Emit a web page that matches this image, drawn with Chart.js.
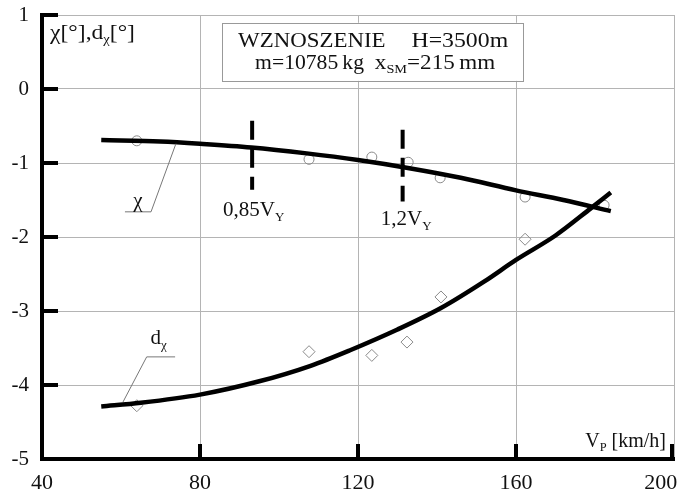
<!DOCTYPE html>
<html>
<head>
<meta charset="utf-8">
<script src="https://cdn.jsdelivr.net/npm/chart.js@4"></script>
<style>
  html, body { margin: 0; padding: 0; background: #fff; }
  #wrap { width: 686px; height: 499px; }
</style>
</head>
<body>
<div id="wrap"><canvas id="chart" width="686" height="499"></canvas></div>
<script>
// Fitted curves
const chiCurveX = [55, 70, 80, 93, 107, 120, 133, 146, 160, 172, 184];
const chiCurveY = [-0.69, -0.71, -0.74, -0.79, -0.87, -0.96, -1.07, -1.2, -1.37, -1.5, -1.65];
const dCurveX = [55, 65, 80, 95, 108, 118, 130, 141, 152, 160, 170, 179, 184];
const dCurveY = [-4.29, -4.24, -4.13, -3.95, -3.74, -3.53, -3.25, -2.96, -2.6, -2.31, -1.98, -1.61, -1.4];

// Measured points
const chiPointsX = [64, 107.6, 123.5, 132.7, 140.8, 162.3, 182.3];
const chiPointsY = [-0.70, -0.95, -0.92, -0.99, -1.2, -1.46, -1.57];
const dPointsX = [64, 107.6, 123.5, 132.4, 141, 162.3];
const dPointsY = [-4.28, -3.55, -3.6, -3.42, -2.81, -2.03];

// Axis ticks
const xTicks = [40, 80, 120, 160, 200];
const yTicks = [1, 0, -1, -2, -3, -4, -5];

// Reference speeds (0,85 VY and 1,2 VY)
const vyMarks = [
  { x: 93.2, y1: -0.43, y2: -1.36, label: '0,85', lx: 93.6, ly: -1.72 },
  { x: 131.3, y1: -0.55, y2: -1.52, label: '1,2', lx: 132.2, ly: -1.84 }
];

const SERIF = '"Liberation Serif", "DejaVu Serif", serif';

function toXY(xs, ys) {
  return xs.map((x, i) => ({ x: x, y: ys[i] }));
}

// draw text made of parts, some of them subscripts; sx stretches it sideways
function richText(c, parts, x, y, size, align, sx) {
  sx = sx || 1;
  c.save();
  c.textBaseline = 'alphabetic';
  c.textAlign = 'left';
  let w = 0;
  parts.forEach(p => {
    c.font = (p.sub ? size * 0.62 : size) + 'px ' + SERIF;
    w += c.measureText(p.t).width + (p.gap || 0);
  });
  w *= sx;
  const x0 = align === 'center' ? x - w / 2 : align === 'right' ? x - w : x;
  c.translate(x0, y);
  c.scale(sx, 1);
  let cx = 0;
  parts.forEach(p => {
    c.font = (p.sub ? size * 0.62 : size) + 'px ' + SERIF;
    c.fillText(p.t, cx, p.sub ? size * 0.22 : 0);
    cx += c.measureText(p.t).width + (p.gap || 0);
  });
  c.restore();
}

const decorations = {
  id: 'decorations',
  beforeDatasetsDraw(chart) {
    const c = chart.ctx;
    const xs = chart.scales.x, ys = chart.scales.y;
    // title box
    const bx1 = xs.getPixelForValue(85.6), bx2 = xs.getPixelForValue(161.8);
    const by1 = ys.getPixelForValue(0.895), by2 = ys.getPixelForValue(0.11);
    c.save();
    c.fillStyle = '#fff';
    c.fillRect(bx1, by1, bx2 - bx1, by2 - by1);
    c.strokeStyle = '#999';
    c.lineWidth = 1;
    c.strokeRect(Math.round(bx1) + 0.5, Math.round(by1) + 0.5, Math.round(bx2 - bx1), Math.round(by2 - by1));
    c.fillStyle = '#111';
    richText(c, [{ t: 'WZNOSZENIE' }], bx1 + 16, by1 + 24, 22, 'left', 1.04);
    richText(c, [{ t: 'H=3500m' }], bx2 - 15, by1 + 24, 22, 'right', 1.08);
    richText(c, [{ t: 'm=10785', gap: 4 }, { t: 'kg' }], bx1 + 33, by1 + 46, 21, 'left', 1.03);
    richText(c, [{ t: 'x' }, { t: 'SM', sub: true }, { t: '=215', gap: 4 }, { t: 'mm' }], bx2 - 28, by1 + 46, 21, 'right', 1.1);
    c.restore();
  },
  afterDatasetsDraw(chart) {
    const c = chart.ctx;
    const xs = chart.scales.x, ys = chart.scales.y;
    const area = chart.chartArea;
    c.save();
    // inner tick marks on the axes
    c.strokeStyle = '#000';
    c.lineWidth = 4;
    c.lineCap = 'butt';
    yTicks.forEach(v => {
      const py = ys.getPixelForValue(v);
      c.beginPath();
      c.moveTo(area.left, py);
      c.lineTo(area.left + 16, py);
      c.stroke();
    });
    xTicks.forEach(v => {
      const px = xs.getPixelForValue(v);
      c.beginPath();
      c.moveTo(Math.min(px, area.right - 2), area.bottom);
      c.lineTo(Math.min(px, area.right - 2), area.bottom - 15);
      c.stroke();
    });
    // dashed reference speeds
    c.lineWidth = 4;
    c.setLineDash([19, 9]);
    vyMarks.forEach(m => {
      const px = xs.getPixelForValue(m.x);
      c.beginPath();
      c.moveTo(px, ys.getPixelForValue(m.y1));
      c.lineTo(px, ys.getPixelForValue(m.y2));
      c.stroke();
    });
    c.setLineDash([]);
    c.fillStyle = '#111';
    vyMarks.forEach(m => {
      richText(c, [{ t: m.label + 'V' }, { t: 'Y', sub: true }],
        xs.getPixelForValue(m.lx), ys.getPixelForValue(m.ly), 21, 'center');
    });
    // leader lines for series names
    c.strokeStyle = '#777';
    c.lineWidth = 1;
    c.beginPath();
    c.moveTo(xs.getPixelForValue(73.9), ys.getPixelForValue(-0.74));
    c.lineTo(xs.getPixelForValue(67.6), ys.getPixelForValue(-1.66));
    c.lineTo(xs.getPixelForValue(61.0), ys.getPixelForValue(-1.66));
    c.stroke();
    c.beginPath();
    c.moveTo(xs.getPixelForValue(60.5), ys.getPixelForValue(-4.23));
    c.lineTo(xs.getPixelForValue(66.5), ys.getPixelForValue(-3.62));
    c.lineTo(xs.getPixelForValue(73.7), ys.getPixelForValue(-3.62));
    c.stroke();
    richText(c, [{ t: 'χ' }], xs.getPixelForValue(64.3), ys.getPixelForValue(-1.6), 21, 'center');
    richText(c, [{ t: 'd' }, { t: 'χ', sub: true }], xs.getPixelForValue(69.5), ys.getPixelForValue(-3.45), 21, 'center');
    // axis titles
    richText(c, [{ t: 'χ[°],d' }, { t: 'χ', sub: true }, { t: '[°]' }], area.left + 8, area.top + 24, 20, 'left', 1.18);
    richText(c, [{ t: 'V' }, { t: 'P', sub: true, gap: 5 }, { t: '[km/h]' }], area.right - 8, area.bottom - 12, 20, 'right');
    c.restore();
  }
};

new Chart(document.getElementById('chart').getContext('2d'), {
  type: 'scatter',
  data: {
    datasets: [
      {
        label: 'chi fit',
        type: 'line',
        data: toXY(chiCurveX, chiCurveY),
        borderColor: '#000',
        borderWidth: 4.5,
        cubicInterpolationMode: 'monotone',
        pointRadius: 0,
        fill: false
      },
      {
        label: 'd fit',
        type: 'line',
        data: toXY(dCurveX, dCurveY),
        borderColor: '#000',
        borderWidth: 4.5,
        cubicInterpolationMode: 'monotone',
        pointRadius: 0,
        fill: false
      },
      {
        label: 'chi',
        data: toXY(chiPointsX, chiPointsY),
        pointStyle: 'circle',
        pointRadius: 5,
        pointBorderWidth: 1,
        pointBorderColor: '#8a8a8a',
        pointBackgroundColor: 'rgba(0,0,0,0)'
      },
      {
        label: 'd',
        data: toXY(dPointsX, dPointsY),
        pointStyle: 'rectRot',
        pointRadius: 6,
        pointBorderWidth: 1,
        pointBorderColor: '#8a8a8a',
        pointBackgroundColor: 'rgba(0,0,0,0)'
      }
    ]
  },
  options: {
    responsive: false,
    animation: false,
    layout: { padding: 0 },
    scales: {
      x: {
        type: 'linear',
        min: 40,
        max: 200,
        afterBuildTicks: s => { s.ticks = xTicks.map(v => ({ value: v })); },
        afterFit: s => { s.height = 40; s.paddingLeft = 0; s.paddingRight = 12; },
        grid: { color: '#b4b4b4', lineWidth: 1, drawTicks: false },
        border: { display: true, color: '#000', width: 4 },
        ticks: {
          color: '#111',
          padding: 11,
          font: { family: SERIF, size: 22 },
          // last label sits left of its tick so it stays inside the picture
          callback: v => v === 200 ? '200\u2002\u2002\u2009' : String(v)
        }
      },
      y: {
        min: -5,
        max: 1,
        afterBuildTicks: s => { s.ticks = yTicks.map(v => ({ value: v })); },
        afterFit: s => { s.width = 42; s.paddingTop = 15; s.paddingBottom = 0; },
        grid: { color: '#b4b4b4', lineWidth: 1, drawTicks: false },
        border: { display: true, color: '#000', width: 4 },
        ticks: { color: '#111', padding: 13, font: { family: SERIF, size: 21 } }
      }
    },
    plugins: {
      legend: { display: false },
      tooltip: { enabled: false }
    }
  },
  plugins: [decorations]
});
</script>
</body>
</html>
